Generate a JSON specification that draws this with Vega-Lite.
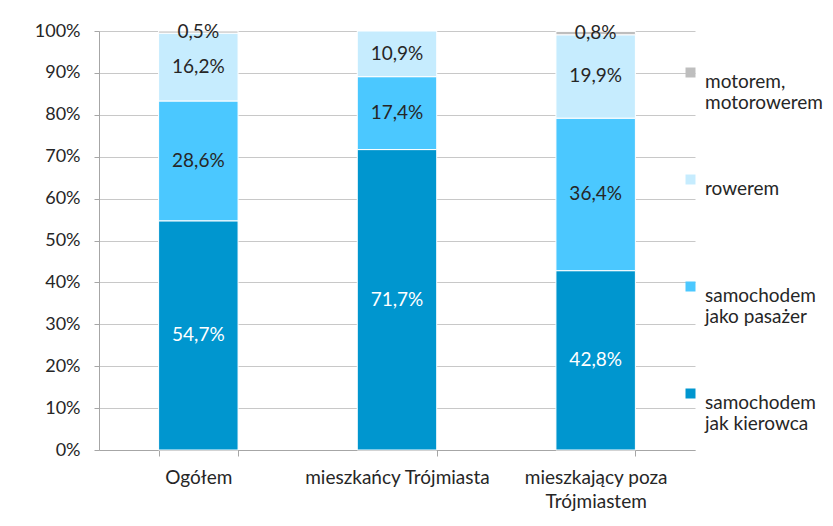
{
  "$schema": "https://vega.github.io/schema/vega-lite/v6.json",
  "width": 596,
  "height": 419,
  "autosize": {"type": "none"},
  "padding": {"left": 99, "top": 31, "right": 138, "bottom": 76},
  "background": "white",
  "config": {
    "locale": {"number": {"decimal": ",", "thousands": " ", "grouping": [3], "currency": ["", " zł"]}},
    "view": {"stroke": null},
    "font": "Lato"
  },
  "data": {
    "values": [
      {"grp": "Ogółem", "mode": "samochodem jak kierowca", "ord": 1, "v": 0.547},
      {"grp": "Ogółem", "mode": "samochodem jako pasażer", "ord": 2, "v": 0.286},
      {"grp": "Ogółem", "mode": "rowerem", "ord": 3, "v": 0.162},
      {"grp": "Ogółem", "mode": "motorem, motorowerem", "ord": 4, "v": 0.005},
      {"grp": "mieszkańcy Trójmiasta", "mode": "samochodem jak kierowca", "ord": 1, "v": 0.717},
      {"grp": "mieszkańcy Trójmiasta", "mode": "samochodem jako pasażer", "ord": 2, "v": 0.174},
      {"grp": "mieszkańcy Trójmiasta", "mode": "rowerem", "ord": 3, "v": 0.109},
      {"grp": "mieszkający poza Trójmiastem", "mode": "samochodem jak kierowca", "ord": 1, "v": 0.428},
      {"grp": "mieszkający poza Trójmiastem", "mode": "samochodem jako pasażer", "ord": 2, "v": 0.364},
      {"grp": "mieszkający poza Trójmiastem", "mode": "rowerem", "ord": 3, "v": 0.199},
      {"grp": "mieszkający poza Trójmiastem", "mode": "motorem, motorowerem", "ord": 4, "v": 0.008}
    ]
  },
  "transform": [
    {"stack": "v", "groupby": ["grp"], "sort": [{"field": "ord", "order": "ascending"}], "as": ["y0", "y1"]},
    {"calculate": "(datum.y0 + datum.y1) / 2", "as": "mid"}
  ],
  "encoding": {
    "x": {
      "field": "grp",
      "type": "nominal",
      "sort": null,
      "title": null,
      "scale": {"paddingInner": 0.6, "paddingOuter": 0.3},
      "axis": {
        "labelAngle": 0,
        "labelFont": "Lato",
        "labelFontSize": 19,
        "labelColor": "#262626",
        "labelPadding": 12,
        "labelLineHeight": 24,
        "labelLimit": 300,
        "labelExpr": "datum.label == 'mieszkający poza Trójmiastem' ? ['mieszkający poza', 'Trójmiastem'] : datum.label",
        "domainColor": "#A6A6A6",
        "tickColor": "#A6A6A6",
        "tickBand": "extent",
        "tickSize": 6,
        "grid": false
      }
    }
  },
  "layer": [
    {
      "mark": {"type": "bar", "stroke": "white", "strokeWidth": 1},
      "encoding": {
        "y": {
          "field": "y0",
          "type": "quantitative",
          "scale": {"domain": [0, 1], "nice": false},
          "title": null,
          "axis": {
            "format": ".0%",
            "values": [0, 0.1, 0.2, 0.3, 0.4, 0.5, 0.6, 0.7, 0.8, 0.9, 1],
            "labelFont": "Lato",
            "labelFontSize": 18,
            "labelColor": "#262626",
            "labelPadding": 14,
            "tickSize": 5,
            "tickColor": "#A6A6A6",
            "domainColor": "#A6A6A6",
            "gridColor": "#C8C8C8",
            "grid": true
          }
        },
        "y2": {"field": "y1"},
        "color": {
          "field": "mode",
          "type": "nominal",
          "scale": {
            "domain": ["motorem, motorowerem", "rowerem", "samochodem jako pasażer", "samochodem jak kierowca"],
            "range": ["#BEBEBE", "#C6ECFE", "#4BC8FF", "#0096CF"]
          },
          "legend": {
            "title": null,
            "orient": "none",
            "legendX": 582,
            "legendY": 32,
            "padding": 0,
            "symbolType": "square",
            "symbolSize": 100,
            "symbolStrokeWidth": 0,
            "labelFont": "Lato",
            "labelFontSize": 19,
            "labelColor": "#262626",
            "labelOffset": 5,
            "labelLimit": 200,
            "labelBaseline": "top",
            "rowPadding": 57,
            "labelExpr": "indexof(datum.label, ' ') < 0 ? [datum.label, ' '] : split(replace(datum.label, ' ', '|'), '|')"
          }
        },
        "order": {"field": "ord", "type": "quantitative"}
      }
    },
    {
      "mark": {"type": "text", "font": "Lato", "fontSize": 19, "baseline": "middle", "align": "center"},
      "encoding": {
        "y": {"field": "mid", "type": "quantitative"},
        "text": {"field": "v", "type": "quantitative", "format": ".1%"},
        "color": {
          "condition": {"test": "datum.mode == 'samochodem jak kierowca'", "value": "white"},
          "value": "#262626"
        }
      }
    }
  ]
}
